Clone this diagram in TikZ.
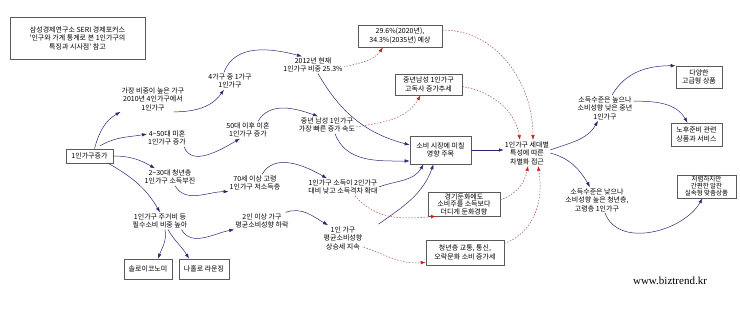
\documentclass[tikz,border=0pt]{standalone}
\usepackage{fontspec}
\setmainfont{Liberation Serif}
\newfontfamily\krfont{Noto Sans CJK KR}
\usetikzlibrary{arrows.meta}
\definecolor{linkblue}{RGB}{40,40,120}
\definecolor{hintred}{RGB}{170,80,80}
\definecolor{tipred}{RGB}{200,30,30}
\definecolor{boxgray}{RGB}{90,90,90}
\begin{document}
\begin{tikzpicture}[x=1pt,y=1pt,
    font=\krfont\fontsize{7}{8.5}\selectfont,
    lbl/.style={align=center, inner sep=1pt},
    box/.style={lbl, draw=boxgray, line width=0.6pt, inner sep=0pt},
    link/.style={linkblue, line width=0.5pt, -{Latex[length=5pt,width=3.5pt]}},
    hint/.style={hintred, line width=0.5pt, dash pattern=on 1.5pt off 1.5pt, -{Latex[length=5pt,width=3.5pt,color=tipred]}}]
    \useasboundingbox (0,0) rectangle (740,-329);
    \node[box, minimum width=135, minimum height=42] (source) at (77.5,-38) {삼성경제연구소 SERI 경제포커스\\'인구와 가계 통계로 본 1인가구의\\특징과 시사점' 참고};
    \node[box, minimum width=47, minimum height=14] (root) at (89.5,-156) {1인가구증가};
    \node[lbl] (high) at (153,-99) {가장 비중이 높은 가구\\2010년 4인가구에서\\1인가구};
    \node[lbl] (four) at (230,-81) {4가구 중 1가구\\1인가구};
    \node[lbl] (now) at (313,-65) {2012년 현재\\1인가구 비중 25.3\%};
    \node[box, minimum width=84, minimum height=22] (forecast) at (400,-36) {29.6\%(2020년),\\34.3\%(2035년) 예상};
    \node[box, minimum width=67, minimum height=21] (lonely) at (428.5,-84.5) {중년남성 1인가구\\고독사 증가추세};
    \node[lbl] (unwed) at (167,-138) {4\textasciitilde 50대 미혼\\1인가구 증가};
    \node[lbl] (divorce) at (248,-130) {50대 이후 이혼\\1인가구 증가};
    \node[lbl] (midman) at (327,-125) {중년 남성 1인가구\\가장 빠른 증가 속도};
    \node[box, minimum width=61, minimum height=28] (market) at (440.5,-150) {소비 시장에 미칠\\영향 주목};
    \node[lbl] (gen) at (527,-153) {1인가구 세대별\\특성에 따른\\차별화 접근};
    \node[lbl] (young) at (170,-177) {2\textasciitilde 30대 청년층\\1인가구 소득부진};
    \node[lbl] (elderly) at (255,-183) {70세 이상 고령\\1인가구 저소득층};
    \node[lbl] (income) at (343,-187) {1인가구 소득이 2인가구\\대비 낮고 소득격차 확대};
    \node[box, minimum width=72, minimum height=24, font=\krfont\fontsize{7}{7.5}\selectfont] (slow) at (464,-204) {경기둔화에도\\소비주를 소득보다\\더디게 둔화경향};
    \node[lbl] (need) at (160,-221) {1인가구 주거비 등\\필수소비 비중 높아};
    \node[lbl] (multi) at (262,-221) {2인 이상 가구\\평균소비성향 하락};
    \node[lbl] (single) at (343,-238) {1인 가구\\평균소비성향\\상승세 지속};
    \node[box, minimum width=78, minimum height=25] (leisure) at (465,-252.5) {청년층 교통, 통신,\\오락문화 소비 증가세};
    \node[box, minimum width=48, minimum height=20] (solo) at (148,-269) {솔로이코노미};
    \node[box, minimum width=50, minimum height=20] (lounge) at (204,-269) {나홀로 라운징};
    \node[lbl] (rich) at (605,-108) {소득수준은 높으나\\소비성향 낮은 중년\\1인가구};
    \node[box, minimum width=46, minimum height=22] (luxury) at (699,-77) {다양한\\고급형 상품};
    \node[box, minimum width=51, minimum height=23] (retire) at (696.5,-134.5) {노후준비 관련\\상품과 서비스};
    \node[lbl] (poor) at (597,-200) {소득수준은 낮으나\\소비성향 높은 청년층,\\고령층 1인가구};
    \node[box, minimum width=59, minimum height=23, font=\krfont\fontsize{6.5}{7}\selectfont] (cheap) at (706.5,-186.5) {저렴하지만\\간편한 알찬\\실속형 맞춤상품};
    \node[font=\fontsize{11}{13}\selectfont] (site) at (670,-281) {www.biztrend.kr};

    \draw[link] ([xshift=5pt]root.north) to[out=75,in=210] (high.south west);
    \draw[link] ([xshift=-12pt]high.south east) to[out=0,in=235] ([xshift=-6pt]four.south);
    \draw[link] ([xshift=-6pt]four.north) to[out=70,in=165] ([xshift=-11pt]now.north);
    \draw[link] ([xshift=5pt]now.south) to[out=-60,in=165] ([yshift=5pt]market.west);
    \draw[link] ([xshift=-13pt,yshift=3pt]root.north east) to[out=30,in=190] ([yshift=4pt]unwed.west);
    \draw[link] ([xshift=-3pt]unwed.south east) to[out=-70,in=210] ([xshift=-8pt]divorce.south);
    \draw[link] ([xshift=10pt]divorce.north) to[out=60,in=160] ([xshift=-9pt]midman.north);
    \draw[link] ([xshift=8pt]midman.south) to[out=-70,in=180] ([yshift=-11pt]market.west);
    \draw[link] (root.east) to[out=0,in=150] ([xshift=-15pt]young.north);
    \draw[link] ([xshift=5pt]young.south) to[out=-60,in=180] (elderly.south west);
    \draw[link] ([xshift=7pt]elderly.north) to[out=60,in=150] ([xshift=-16pt]income.north);
    \draw[link] (income.east) to[out=20,in=240] ([xshift=-17pt]market.south);
    \draw[link] ([xshift=15pt,yshift=1pt]single.north east) to[out=35,in=250] ([xshift=-7pt]market.south);
    \draw[link] ([xshift=-5pt]root.south east) to[out=-30,in=120] (need.north);
    \draw[link] ([xshift=-7pt]need.south east) to[out=-60,in=190] (multi.south west);
    \draw[link] ([xshift=-4pt]multi.north east) to[out=20,in=150] ([xshift=-15pt]single.north);
    \draw[link] ([xshift=5pt]need.south) to[out=-80,in=70] ([xshift=10pt]solo.north);
    \draw[link] ([xshift=8pt]need.south) to[out=-60,in=120] ([xshift=-15pt]lounge.north);
    \draw[link] (market.east) -- (market.east -| gen.west);
    \draw[link] ([yshift=3pt]gen.east) to[out=20,in=240] ([xshift=-7pt]rich.south);
    \draw[link] (gen.east) to[out=-15,in=120] ([xshift=-7pt]poor.north);
    \draw[link] ([xshift=7pt]rich.north) to[out=60,in=180] (luxury.north west);
    \draw[link] ([yshift=-6pt]rich.north east) to[out=0,in=120] ([xshift=-9pt]retire.north);
    \draw[link] ([xshift=8pt]poor.south) to[out=-70,in=240] ([xshift=-4pt]cheap.south);

    \draw[hint] ([yshift=-2pt]now.east) to[out=15,in=235] ([xshift=-17pt]forecast.south);
    \draw[hint] ([yshift=6pt]forecast.east) to[out=0,in=90] ([xshift=6pt]gen.north);
    \draw[hint] ([yshift=-2pt]midman.east) to[out=10,in=240] ([xshift=-8pt]lonely.south);
    \draw[hint] ([yshift=-2pt]lonely.east) to[out=-10,in=100] ([xshift=-7pt]gen.north);
    \draw[hint] ([xshift=12pt]income.south) to[out=-50,in=185] ([xshift=-28pt]slow.south);
    \draw[hint] ([yshift=4pt]slow.east) to[out=20,in=260] ([xshift=1pt]gen.south);
    \draw[hint] ([yshift=-9pt]single.east) to[out=-20,in=185] ([yshift=3pt]leisure.south west);
    \draw[hint] ([yshift=9pt]leisure.east) to[out=20,in=-80] ([xshift=11pt]gen.south);
\end{tikzpicture}
\end{document}
